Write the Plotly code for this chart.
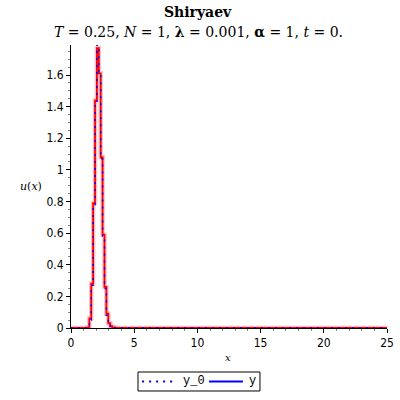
import plotly.graph_objects as go

# step data (bin left edges and heights)
x_edges = [0, 1.30, 1.45, 1.60, 1.75, 1.90, 2.05, 2.20, 2.35, 2.50, 2.65, 2.80, 2.95, 3.10, 3.25, 3.45, 25]
y_vals  = [0, 0.004, 0.06, 0.28, 0.79, 1.44, 1.77, 1.61, 1.08, 0.59, 0.26, 0.09, 0.03, 0.012, 0.004, 0, 0]
y0_vals = [0, 0.004, 0.05, 0.27, 0.78, 1.43, 1.79, 1.60, 1.07, 0.58, 0.25, 0.08, 0.03, 0.01, 0.003, 0, 0]
legend_names = ["y_0", "y"]

fig = go.Figure()
fig.add_trace(go.Scatter(x=x_edges, y=y_vals, mode="lines", line=dict(color="rgba(255,150,150,0.6)", width=4.5, shape="hv"),
                         showlegend=False, hoverinfo="skip"))
fig.add_trace(go.Scatter(x=x_edges, y=y_vals, mode="lines", name="y", line=dict(color="#ff0000", width=1.8, shape="hv"),
                         showlegend=False))
fig.add_trace(go.Scatter(x=x_edges, y=y0_vals, mode="lines", name="y_0",
                         line=dict(color="#0000ff", width=1.5, dash="2px,5px", shape="hv"),
                         showlegend=False))

tickfont = dict(family="DejaVu Sans Condensed", size=12, color="black")
fig.update_layout(
    width=400, height=400,
    margin=dict(l=71, r=13, t=45, b=72, autoexpand=False),
    paper_bgcolor="white", plot_bgcolor="white",
    xaxis=dict(range=[0, 25], tickvals=[0, 5, 10, 15, 20, 25], ticktext=["0", "5", "10", "15", "20", "25"],
               showgrid=False, zeroline=False, showline=True, linecolor="black", linewidth=1, automargin=False,
               ticks="outside", ticklen=4, tickcolor="black", tickfont=tickfont,
               minor=dict(dtick=1, ticks="outside", ticklen=2, tickcolor="#888")),
    yaxis=dict(range=[0, 1.79], tickvals=[0, 0.2, 0.4, 0.6, 0.8, 1, 1.2, 1.4, 1.6],
               ticktext=["0", "0.2", "0.4", "0.6", "0.8", "1", "1.2", "1.4", "1.6"],
               showgrid=False, zeroline=False, showline=True, linecolor="black", linewidth=1, automargin=False,
               ticks="outside", ticklen=4, tickcolor="black", tickfont=tickfont,
               minor=dict(dtick=0.05, ticks="outside", ticklen=2, tickcolor="#888")),
    showlegend=False,
)
fig.add_annotation(text="<b>Shiryaev</b>", xref="paper", yref="paper", x=0.402, y=1.117,
                   xanchor="center", yanchor="middle", showarrow=False,
                   font=dict(family="DejaVu Serif", size=14, color="black"))
fig.add_annotation(text="<i>T</i> = 0.25, <i>N</i> = 1, <b>λ</b> = 0.001, <b>α</b> = 1, <i>t</i> = 0.",
                   xref="paper", yref="paper", x=0.402, y=1.046,
                   xanchor="center", yanchor="middle", showarrow=False,
                   font=dict(family="DejaVu Serif", size=14, color="black"))
fig.add_annotation(text="<i>u</i>(<i>x</i>)", xref="paper", yref="paper", x=-0.127, y=0.5,
                   xanchor="center", yanchor="middle", showarrow=False,
                   font=dict(family="DejaVu Serif", size=11, color="black"))
fig.add_annotation(text="<i>x</i>", xref="paper", yref="paper", x=0.497, y=-0.106,
                   xanchor="center", yanchor="middle", showarrow=False,
                   font=dict(family="DejaVu Serif", size=10, color="black"))

# manual legend
fig.add_shape(type="rect", xref="paper", yref="paper", x0=0.212, x1=0.598, y0=-0.2226, y1=-0.1555,
              line=dict(color="black", width=1), fillcolor="white")
fig.add_shape(type="line", xref="paper", yref="paper", x0=0.225, x1=0.323, y0=-0.189, y1=-0.189,
              line=dict(color="#0000ff", width=2, dash="2px,5px"))
fig.add_shape(type="line", xref="paper", yref="paper", x0=0.437, x1=0.544, y0=-0.189, y1=-0.189,
              line=dict(color="#0000ff", width=2))
fig.add_annotation(text=legend_names[0], xref="paper", yref="paper", x=0.348, y=-0.189,
                   xanchor="left", yanchor="middle", showarrow=False,
                   font=dict(family="Liberation Mono", size=12, color="black"))
fig.add_annotation(text=legend_names[1], xref="paper", yref="paper", x=0.557, y=-0.189,
                   xanchor="left", yanchor="middle", showarrow=False,
                   font=dict(family="Liberation Mono", size=12, color="black"))
fig.write_html("out.html", config={"displayModeBar": False},
               post_script="document.body.style.margin='0px';document.body.style.padding='0px';")
